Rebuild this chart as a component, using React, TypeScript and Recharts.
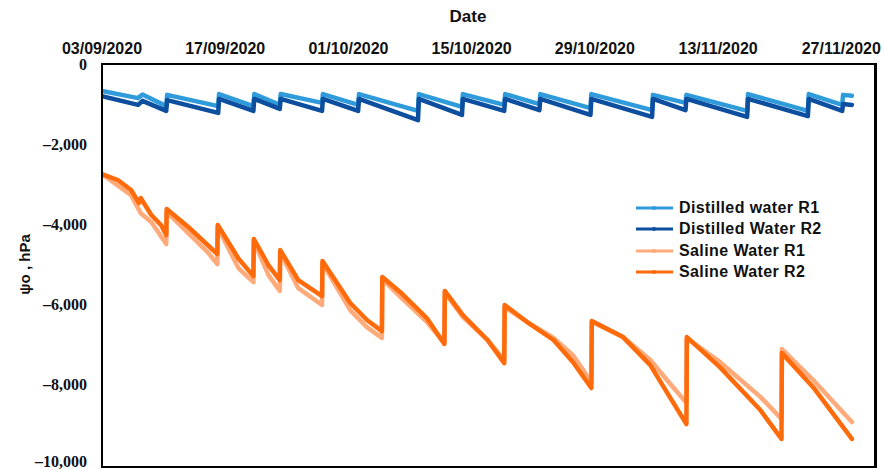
import React from 'react';
import { LineChart, Line, XAxis, YAxis } from 'recharts';

// x = days since 03/09/2020, y = psi_o in hPa
const distilledR1: [number, number][] = [
  [0, -670], [4.1, -850], [4.6, -760], [7.3, -1050], [7.4, -770], [13.2, -1050], [13.3, -750],
  [17.2, -1050], [17.3, -750], [20.2, -1020], [20.3, -750], [25.0, -970], [25.1, -750],
  [29.1, -1020], [29.2, -750], [35.9, -1170], [36.0, -750], [40.9, -1070], [41.0, -750],
  [45.7, -1020], [45.8, -750], [49.7, -1000], [49.8, -750], [55.5, -1100], [55.6, -750],
  [62.5, -1150], [62.6, -770], [66.3, -970], [66.4, -770], [73.3, -1170], [73.4, -750],
  [80.2, -1170], [80.3, -750], [84.1, -1020], [84.2, -770], [85.2, -790],
];

const distilledR2: [number, number][] = [
  [0, -800], [4.1, -1020], [4.6, -920], [7.3, -1170], [7.4, -900], [13.2, -1220], [13.3, -870],
  [17.2, -1170], [17.3, -870], [20.2, -1120], [20.3, -870], [25.0, -1170], [25.1, -870],
  [29.1, -1170], [29.2, -870], [35.9, -1400], [36.0, -870], [40.9, -1270], [41.0, -870],
  [45.7, -1170], [45.8, -870], [49.7, -1150], [49.8, -870], [55.5, -1270], [55.6, -870],
  [62.5, -1320], [62.6, -870], [66.3, -1150], [66.4, -870], [73.3, -1320], [73.4, -870],
  [80.2, -1300], [80.3, -870], [84.1, -1170], [84.2, -1000], [85.2, -1020],
];

const salineR1: [number, number][] = [
  [0, -2743], [3.3, -3270], [4.4, -3720], [5.6, -3940], [7.3, -4490], [7.35, -3690],
  [9.8, -4215], [12.0, -4690], [13.1, -4990], [13.15, -4070],
  [15.5, -5090], [17.2, -5440], [17.25, -4415],
  [18.9, -5260], [20.2, -5660], [20.25, -4690],
  [22.3, -5590], [25.0, -6010], [25.05, -4960],
  [28.2, -6140], [30.1, -6560], [31.8, -6830], [31.85, -5360],
  [33.9, -5810], [36.9, -6430], [38.9, -6960], [38.95, -5700],
  [41.0, -6310], [43.8, -6880], [45.7, -7380], [45.75, -6060],
  [48.3, -6430], [51.3, -6830], [53.5, -7260], [55.6, -7930], [55.65, -6430],
  [59.2, -6810], [62.3, -7380], [64.5, -7960], [66.4, -8450], [66.45, -6840],
  [70.2, -7430], [74.8, -8300], [77.2, -8850], [77.25, -7110],
  [80.8, -7880], [85.2, -8930],
];

const salineR2: [number, number][] = [
  [0, -2743], [1.8, -2893], [3.3, -3142], [4.2, -3467], [4.4, -3342], [5.6, -3766], [6.7, -4015],
  [7.3, -4265], [7.35, -3617],
  [9.8, -4065], [12.0, -4514], [13.1, -4740], [13.15, -4016],
  [15.5, -4850], [17.2, -5290], [17.25, -4365],
  [18.9, -5013], [20.2, -5390], [20.25, -4640],
  [22.3, -5390], [25.0, -5790], [25.05, -4910],
  [28.2, -5960], [30.1, -6385], [31.8, -6660], [31.85, -5310],
  [33.9, -5690], [36.9, -6335], [38.9, -6980], [38.95, -5660],
  [41.0, -6260], [43.8, -6883], [45.7, -7460], [45.75, -6010],
  [48.3, -6435], [51.3, -6883], [53.5, -7430], [55.6, -8080], [55.65, -6410],
  [59.2, -6810], [62.3, -7510], [64.5, -8300], [66.4, -8980], [66.45, -6810],
  [70.2, -7560], [74.8, -8630], [77.2, -9350], [77.25, -7210],
  [80.8, -8060], [85.2, -9350],
];

const xTicks = [0, 14, 28, 42, 56, 70, 84];
const xTickLabels = ['03/09/2020', '17/09/2020', '01/10/2020', '15/10/2020', '29/10/2020', '13/11/2020', '27/11/2020'];
const yTicks = [0, -2000, -4000, -6000, -8000, -10000];

const series = [
  { name: 'Distilled water R1', color: '#2f9bdb', data: distilledR1 },
  { name: 'Distilled Water R2', color: '#0d4f9e', data: distilledR2 },
  { name: 'Saline Water R1', color: '#ffaa7a', data: salineR1 },
  { name: 'Saline Water R2', color: '#ff6a0a', data: salineR2 },
];

const drawOrder = [2, 3, 0, 1];

const toPoints = (arr: [number, number][]) => arr.map(([d, v]) => ({ d, v }));

const fmtY = (v: number) => (v === 0 ? '0' : '\u2013' + Math.abs(v).toLocaleString('en-US'));

const font = 'Liberation Sans, Arial, sans-serif';

const LegendBox = () => (
  <div
    style={{
      position: 'absolute', left: 636, top: 197,
      fontFamily: font, fontWeight: 700, fontSize: 16, letterSpacing: 0.4, color: '#111',
    }}
  >
    {series.map((s) => (
      <div key={s.name} style={{ display: 'flex', alignItems: 'center', height: 21.5 }}>
        <svg width={40} height={10} style={{ marginRight: 3 }}>
          <line x1={0} y1={5} x2={37} y2={5} stroke={s.color} strokeWidth={3} />
          <circle cx={18} cy={5} r={2} fill={s.color} />
        </svg>
        <span>{s.name}</span>
      </div>
    ))}
  </div>
);

const App: React.FC = () => {
  return (
    <div style={{ position: 'absolute', left: 0, top: 0, width: 884, height: 470, background: '#fff' }}>
      <div
        style={{
          position: 'absolute', left: 468, top: 7, transform: 'translateX(-50%)',
          fontFamily: font, fontWeight: 700, fontSize: 17, color: '#111',
        }}
      >
        Date
      </div>
      <LineChart width={884} height={470} margin={{ top: 24, right: 11, bottom: 5, left: 10 }}>
        <XAxis
          dataKey="d"
          type="number"
          orientation="top"
          domain={[0, 87.6]}
          ticks={xTicks}
          tickFormatter={(_v: number, i: number) => xTickLabels[i]}
          height={40}
          tickLine={false}
          tickSize={0}
          tickMargin={10}
          axisLine={false}
          tick={{ fontSize: 16, fontWeight: 700, fill: '#111', fontFamily: font }}
          allowDataOverflow
        />
        <YAxis
          type="number"
          domain={[-10000, 0]}
          ticks={yTicks}
          tickFormatter={fmtY}
          width={92}
          tickLine={false}
          tickSize={0}
          tickMargin={15}
          axisLine={false}
          tick={{ fontSize: 16, fontWeight: 700, fill: '#111', fontFamily: 'Liberation Serif, Times New Roman, serif' }}
          label={{
            value: '\u03c8o , hPa', angle: -90, position: 'insideLeft', offset: 15,
            style: { fontSize: 15, fontWeight: 700, fill: '#111', fontFamily: font, textAnchor: 'middle' },
          }}
        />
        {drawOrder.map((i) => {
          const s = series[i];
          return (
            <Line
              key={s.name}
              name={s.name}
              data={toPoints(s.data)}
              dataKey="v"
              type="linear"
              stroke={s.color}
              strokeWidth={4.5}
              strokeLinejoin="round"
              strokeLinecap="round"
              dot={false}
              isAnimationActive={false}
            />
          );
        })}
      </LineChart>
      <div
        style={{
          position: 'absolute', left: 101, top: 63, width: 771, height: 401,
          border: '2px solid #000', borderRightWidth: 3, pointerEvents: 'none',
        }}
      />
      <LegendBox />
    </div>
  );
};

export default App;
